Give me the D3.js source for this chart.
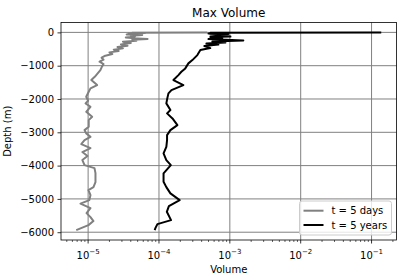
<!DOCTYPE html>
<html>
<head>
<meta charset="utf-8">
<script src="https://cdn.jsdelivr.net/npm/d3@7"></script>
<style>
  html, body { margin: 0; padding: 0; background: #fff; }
  svg { display: block; }
  text { font-family: "DejaVu Sans", sans-serif; fill: #000; }
</style>
</head>
<body>
<svg id="chart" width="404" height="280"></svg>
<script>
// ---- data ----
const title = "Max Volume";
const xLabel = "Volume";
const yLabel = "Depth (m)";
const seriesNames = ["t = 5 days", "t = 5 years"];
const seriesColors = ["#808080", "#000000"];

const yTicks = [0, -1000, -2000, -3000, -4000, -5000, -6000];
const xTickExps = [-5, -4, -3, -2, -1];

const daysDepth = [0, -10, -20, -30, -45, -60, -80, -100, -120, -150, -180, -200, -220, -250,
  -280, -320, -360, -400, -440, -480, -520, -560, -600, -650, -700, -760, -820, -880, -950,
  -1050, -1132, -1333, -1432, -1583, -1682, -1784, -1934, -2054, -2132, -2234, -2384, -2535,
  -2634, -2835, -2934, -3033, -3135, -3234, -3354, -3474, -3594, -3714, -3834, -3985, -4075,
  -4225, -4495, -4645, -4735, -4885, -5036, -5141, -5276, -5426, -5546, -5666, -5787, -5937];
const daysVolume = [4.8e-4, 4.2e-5, 6.4e-5, 3.7e-5, 5.5e-5, 3.5e-5, 5.8e-5, 4.0e-5, 4.6e-5, 3.4e-5,
  5.0e-5, 6.9e-5, 4.2e-5, 4.8e-5, 3.1e-5, 4.0e-5, 2.9e-5, 3.6e-5, 2.6e-5, 3.1e-5, 2.3e-5,
  2.7e-5, 2.0e-5, 2.2e-5, 1.75e-5, 1.55e-5, 1.65e-5, 1.45e-5, 1.65e-5, 1.55e-5, 1.49e-5,
  1.24e-5, 1.11e-5, 1.34e-5, 1.08e-5, 1.02e-5, 9.4e-6, 1.0e-5, 9.2e-6, 1.08e-5, 9.4e-6,
  1.14e-5, 1.02e-5, 1.02e-5, 8.9e-6, 9.4e-6, 1.08e-5, 8.9e-6, 8.0e-6, 1.08e-5, 8.3e-6,
  9.8e-6, 8.3e-6, 8.9e-6, 1.23e-5, 1.27e-5, 1.27e-5, 1.19e-5, 1.01e-5, 1.08e-5, 1.04e-5,
  7.8e-6, 1.08e-5, 9.5e-6, 1.08e-5, 1.19e-5, 1.01e-5, 6.8e-6];

const yearsDepth = [0, -9, -21, -36, -51, -66, -96, -126, -141, -171, -201, -246, -276, -306,
  -336, -366, -411, -471, -532, -682, -832, -931, -1081, -1183, -1282, -1432, -1583, -1733,
  -1832, -1982, -2132, -2333, -2432, -2583, -2784, -2934, -3084, -3234, -3435, -3634, -3835,
  -3985, -4234, -4487, -4646, -4835, -5036, -5216, -5387, -5636, -5757, -5877, -5937];
const yearsVolume = [0.137, 5.31e-4, 8.65e-4, 4.98e-4, 9.53e-4, 5.31e-4, 7.35e-4, 1.02e-3, 5.3e-4,
  7.83e-4, 5.0e-4, 1.55e-3, 5.66e-4, 8.65e-4, 4.67e-4, 6.89e-4, 4.37e-4, 5.3e-4, 3.84e-4,
  3.48e-4, 2.96e-4, 2.60e-4, 2.35e-4, 2.07e-4, 1.88e-4, 1.60e-4, 2.21e-4, 1.50e-4, 1.36e-4,
  1.31e-4, 1.27e-4, 1.45e-4, 1.30e-4, 1.55e-4, 1.82e-4, 1.45e-4, 1.30e-4, 1.30e-4, 1.27e-4,
  1.16e-4, 1.27e-4, 1.47e-4, 1.16e-4, 1.16e-4, 1.27e-4, 1.45e-4, 1.96e-4, 1.38e-4, 1.29e-4,
  1.48e-4, 9.5e-5, 8.9e-5, 8.7e-5];

// ---- layout ----
const W = 404, H = 280;
const plot = { left: 61, right: 396.5, top: 22.5, bottom: 240 };

const series = [
  { name: seriesNames[0], color: seriesColors[0], depth: daysDepth, vol: daysVolume },
  { name: seriesNames[1], color: seriesColors[1], depth: yearsDepth, vol: yearsVolume }
];

const allVol = daysVolume.concat(yearsVolume);
const allDepth = daysDepth.concat(yearsDepth);
const lx = d3.extent(allVol).map(Math.log10);
const mx = (lx[1] - lx[0]) * 0.05;
const ly = d3.extent(allDepth);
const my = (ly[1] - ly[0]) * 0.05;

const x = d3.scaleLog().domain([Math.pow(10, lx[0] - mx), Math.pow(10, lx[1] + mx)])
  .range([plot.left, plot.right]);
const y = d3.scaleLinear().domain([ly[0] - my, ly[1] + my]).range([plot.bottom, plot.top]);

const svg = d3.select("#chart");
svg.append("rect").attr("width", W).attr("height", H).attr("fill", "#fff");

// grid
const grid = svg.append("g");
xTickExps.forEach(e => {
  const px = x(Math.pow(10, e));
  grid.append("line").attr("x1", px).attr("x2", px).attr("y1", plot.top).attr("y2", plot.bottom)
    .attr("stroke", "#808080").attr("stroke-width", 1);
});
yTicks.forEach(t => {
  grid.append("line").attr("x1", plot.left).attr("x2", plot.right).attr("y1", y(t)).attr("y2", y(t))
    .attr("stroke", "#808080").attr("stroke-width", 1);
});

// lines
svg.append("clipPath").attr("id", "clip").append("rect")
  .attr("x", plot.left).attr("y", plot.top)
  .attr("width", plot.right - plot.left).attr("height", plot.bottom - plot.top);

series.forEach(s => {
  const pts = s.depth.map((d, i) => [s.vol[i], d]);
  const line = d3.line().x(p => x(p[0])).y(p => y(p[1]));
  svg.append("path").datum(pts).attr("d", line)
    .attr("fill", "none").attr("stroke", s.color).attr("stroke-width", 2)
    .attr("stroke-linejoin", "round").attr("stroke-linecap", "butt")
    .attr("clip-path", "url(#clip)");
});

// axes frame
svg.append("rect").attr("x", plot.left).attr("y", plot.top)
  .attr("width", plot.right - plot.left).attr("height", plot.bottom - plot.top)
  .attr("fill", "none").attr("stroke", "#000").attr("stroke-width", 0.8);

// y axis
const yAxis = d3.axisLeft(y).tickValues(yTicks).tickSize(3.5).tickPadding(3.5)
  .tickFormat(d => (d < 0 ? "\u2212" : "") + Math.abs(d));
const yg = svg.append("g").attr("transform", `translate(${plot.left},0)`).call(yAxis);
yg.select(".domain").remove();
yg.selectAll(".tick line").attr("stroke", "#000").attr("stroke-width", 0.8);
yg.selectAll(".tick text").attr("font-size", 10).attr("font-family", "DejaVu Sans").attr("fill", "#000");

// x axis: minor + major ticks
const xg = svg.append("g").attr("transform", `translate(0,${plot.bottom})`);
const [d0, d1] = x.domain();
const minor = [];
for (let e = Math.floor(Math.log10(d0)); e <= Math.ceil(Math.log10(d1)); e++) {
  for (let k = 2; k <= 9; k++) {
    const v = k * Math.pow(10, e);
    if (v >= d0 && v <= d1) minor.push(v);
  }
}
minor.forEach(v => {
  xg.append("line").attr("x1", x(v)).attr("x2", x(v)).attr("y1", 0).attr("y2", 2)
    .attr("stroke", "#000").attr("stroke-width", 0.6);
});
xTickExps.forEach(e => {
  const px = x(Math.pow(10, e));
  xg.append("line").attr("x1", px).attr("x2", px).attr("y1", 0).attr("y2", 3.5)
    .attr("stroke", "#000").attr("stroke-width", 0.8);
  const t = xg.append("text").attr("x", px).attr("y", 18.5).attr("text-anchor", "middle")
    .attr("font-size", 10);
  t.append("tspan").text("10");
  t.append("tspan").attr("font-size", 7).attr("dy", -4.5).text("\u2212" + Math.abs(e));
});

// labels
svg.append("text").attr("x", (plot.left + plot.right) / 2).attr("y", 16.5)
  .attr("text-anchor", "middle").attr("font-size", 12).text(title);
svg.append("text").attr("x", (plot.left + plot.right) / 2).attr("y", 272.5)
  .attr("text-anchor", "middle").attr("font-size", 10).text(xLabel);
svg.append("text").attr("transform", `translate(10.5,${(plot.top + plot.bottom) / 2}) rotate(-90)`)
  .attr("text-anchor", "middle").attr("font-size", 10).text(yLabel);

// legend
const lg = svg.append("g");
const lbx = 299.5, lby = 201, lbw = 92, lbh = 34;
lg.append("rect").attr("x", lbx).attr("y", lby).attr("width", lbw).attr("height", lbh)
  .attr("rx", 2.5).attr("ry", 2.5)
  .attr("fill", "#fff").attr("fill-opacity", 0.8).attr("stroke", "#cccccc").attr("stroke-width", 1);
series.forEach((s, i) => {
  const cy = 210.7 + i * 14.3;
  lg.append("line").attr("x1", lbx + 4).attr("x2", lbx + 24).attr("y1", cy).attr("y2", cy)
    .attr("stroke", s.color).attr("stroke-width", 2);
  lg.append("text").attr("x", lbx + 32).attr("y", cy + 3.6).attr("font-size", 10).text(s.name);
});
</script>
</body>
</html>
